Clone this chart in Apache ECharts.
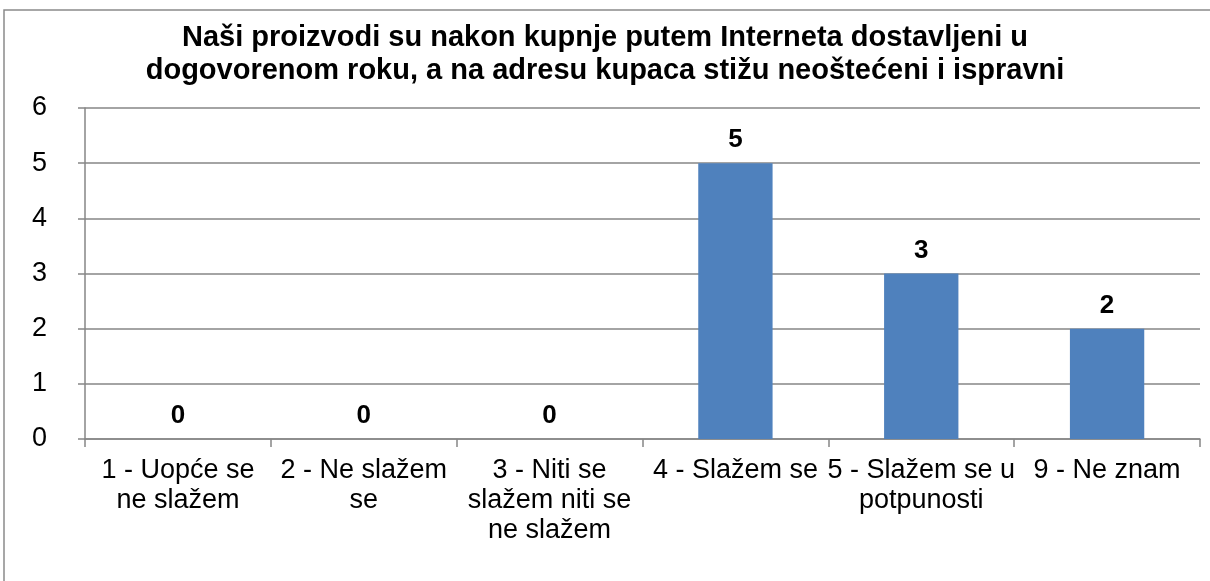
<!DOCTYPE html>
<html>
<head>
<meta charset="utf-8">
<script src="https://cdn.jsdelivr.net/npm/echarts@6/dist/echarts.min.js"></script>
<style>
  html, body { margin: 0; padding: 0; background: #fff; }
  #chart { width: 1210px; height: 581px; }
</style>
</head>
<body>
<div id="chart"></div>
<script>
  const categories = [
    '1 - Uopće se\nne slažem',
    '2 - Ne slažem\nse',
    '3 - Niti se\nslažem niti se\nne slažem',
    '4 - Slažem se',
    '5 - Slažem se u\npotpunosti',
    '9 - Ne znam'
  ]
  const values = [0, 0, 0, 5, 3, 2]
  const yTicks = [0, 1, 2, 3, 4, 5, 6]

  let mychart = echarts.init(document.getElementById('chart'))
  mychart.setOption({
    animation: false,
    textStyle: { fontFamily: 'Liberation Sans, Arial, sans-serif' },
    graphic: [
      {
        // outer chart border, cut by the right and bottom edge
        type: 'rect',
        shape: { x: 4, y: 10, width: 1220, height: 600 },
        style: { fill: 'none', stroke: '#8a8a8a', lineWidth: 1.5 },
        silent: true
      }
    ],
    title: {
      text: 'Naši proizvodi su nakon kupnje putem Interneta dostavljeni u\ndogovorenom roku, a na adresu kupaca stižu neoštećeni i ispravni',
      left: 'center',
      top: 16,
      textStyle: {
        fontSize: 29,
        fontWeight: 'bold',
        color: '#000',
        lineHeight: 33,
        fontFamily: 'Liberation Sans, Arial, sans-serif'
      }
    },
    grid: {
      left: 85,
      right: 10,
      top: 108,
      bottom: 142
    },
    xAxis: {
      type: 'category',
      data: categories,
      axisLine: { lineStyle: { color: '#868686', width: 1.5 } },
      axisTick: { show: true, alignWithLabel: false, length: 8, lineStyle: { color: '#868686', width: 1.5 } },
      axisLabel: {
        color: '#000',
        fontSize: 27,
        lineHeight: 30,
        margin: 17,
        interval: 0
      }
    },
    yAxis: {
      type: 'value',
      min: yTicks[0],
      max: yTicks[yTicks.length - 1],
      interval: 1,
      axisLine: { show: true, lineStyle: { color: '#868686', width: 1.5 } },
      axisTick: { show: true, length: 7, lineStyle: { color: '#868686', width: 1.5 } },
      splitLine: { lineStyle: { color: '#868686', width: 1.5 } },
      axisLabel: { color: '#000', fontSize: 27, margin: 38 }
    },
    series: [
      {
        type: 'bar',
        data: values,
        barCategoryGap: '60%',
        itemStyle: { color: '#4F81BD' },
        label: {
          show: true,
          position: 'top',
          distance: 10,
          color: '#000',
          fontSize: 26,
          fontWeight: 'bold'
        }
      }
    ]
  })
</script>
</body>
</html>
